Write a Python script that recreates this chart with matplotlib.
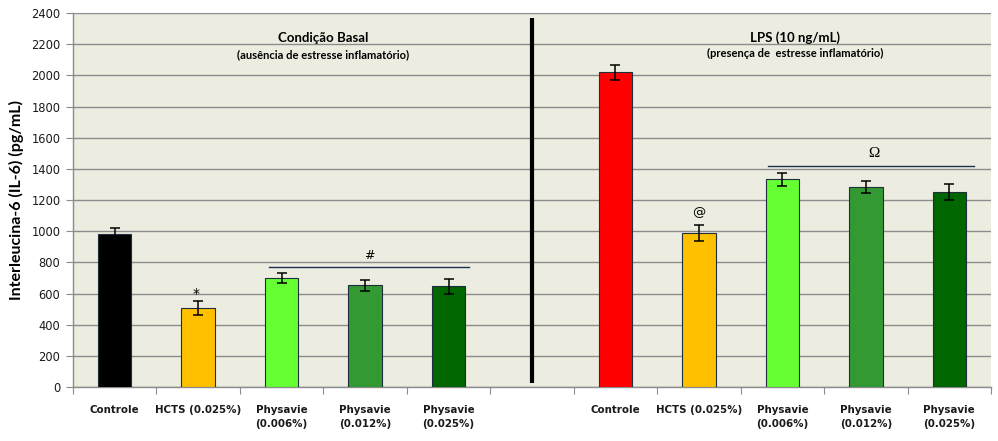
import numpy as np
import matplotlib
matplotlib.use("Agg")
import matplotlib.pyplot as plt

# data
labels = ["Controle", "HCTS (0.025%)", "Physavie\n(0.006%)", "Physavie\n(0.012%)", "Physavie\n(0.025%)"]
basal = [980, 505, 697, 652, 646]
basal_err = [40, 45, 32, 35, 50]
lps = [2020, 988, 1333, 1283, 1250]
lps_err = [48, 52, 42, 38, 52]
colors = ["#000000", "#FFC000", "#66FF33", "#339933", "#006600"]
lps_colors = ["#FF0000", "#FFC000", "#66FF33", "#339933", "#006600"]

bg = "#ECEDE0"
grid_c = "#8C8C8C"

fig = plt.figure(figsize=(9.98, 4.41), dpi=100)
ax = fig.add_axes([0.0731, 0.1224, 0.9199, 0.8481])
ax.set_facecolor(bg)

x_basal = np.arange(5)
x_lps = np.arange(6, 11)
xs = np.concatenate([x_basal, x_lps])
vals = basal + lps
errs = basal_err + lps_err
cols = colors + lps_colors

ax.bar(xs, vals, width=0.4, color=cols, edgecolor="#1F2D3D", linewidth=0.8, zorder=3)
ax.errorbar(xs, vals, yerr=errs, fmt="none", ecolor="black", elinewidth=1.1,
            capsize=3.5, capthick=1.1, zorder=4)

ax.set_xlim(-0.5, 10.5)
ax.set_ylim(0, 2400)
ax.set_yticks(np.arange(0, 2401, 200))
ax.yaxis.grid(True, color=grid_c, linewidth=1.0, zorder=0)
ax.set_axisbelow(True)

# category boundary ticks
ax.set_xticks(np.arange(-0.5, 10.6, 1.0))
ax.set_xticklabels([])
ax.set_xticks(xs, minor=True)
ax.set_xticklabels(labels + labels, minor=True, fontsize=7.4, fontweight="bold",
                   family="DejaVu Sans", color="#1a1a1a", linespacing=1.5)
ax.tick_params(axis="x", which="minor", length=0, pad=13)
ax.tick_params(axis="x", which="major", length=5, color=grid_c, direction="out")
ax.tick_params(axis="y", length=5, color=grid_c, labelsize=8.3, labelcolor="#1a1a1a", pad=4)
for lab in ax.get_yticklabels():
    lab.set_family("DejaVu Sans")

for s in ["top", "right"]:
    ax.spines[s].set_visible(False)
for s in ["left", "bottom"]:
    ax.spines[s].set_color(grid_c)
    ax.spines[s].set_linewidth(1.0)

ax.set_ylabel("Interleucina-6 (IL-6) (pg/mL)", fontsize=11.5, fontweight="bold",
              family="Lato", labelpad=5)

# separator
ax.plot([5, 5], [25, 2370], color="black", linewidth=3, zorder=5, solid_capstyle="butt")

# group headers
ax.text(2.5, 2237, "Condição Basal", ha="center", va="center", fontsize=9.5,
        fontweight="bold", family="Lato")
ax.text(2.5, 2135, "(ausência de estresse inflamatório)", ha="center", va="center",
        fontsize=8, fontweight="bold", family="Lato")
ax.text(8.15, 2245, "LPS (10 ng/mL)", ha="center", va="center", fontsize=9.5,
        fontweight="bold", family="Lato")
ax.text(8.15, 2140, "(presença de  estresse inflamatório)", ha="center", va="center",
        fontsize=8, fontweight="bold", family="Lato")

# significance marks
ax.plot([1.85, 4.25], [768, 768], color="#1F2D50", linewidth=1.0, zorder=5)
ax.text(3.05, 845, "#", ha="center", va="center", fontsize=9, family="DejaVu Sans")
ax.text(0.98, 600, "*", ha="center", va="center", fontsize=10, family="DejaVu Sans")
ax.plot([7.83, 10.3], [1418, 1418], color="#1F2D50", linewidth=1.0, zorder=5)
ax.text(9.1, 1500, "Ω", ha="center", va="center", fontsize=11, family="Liberation Serif")
ax.text(7.0, 1118, "@", ha="center", va="center", fontsize=9.5, family="DejaVu Sans")

fig.savefig("out.png", dpi=100, facecolor="white")
